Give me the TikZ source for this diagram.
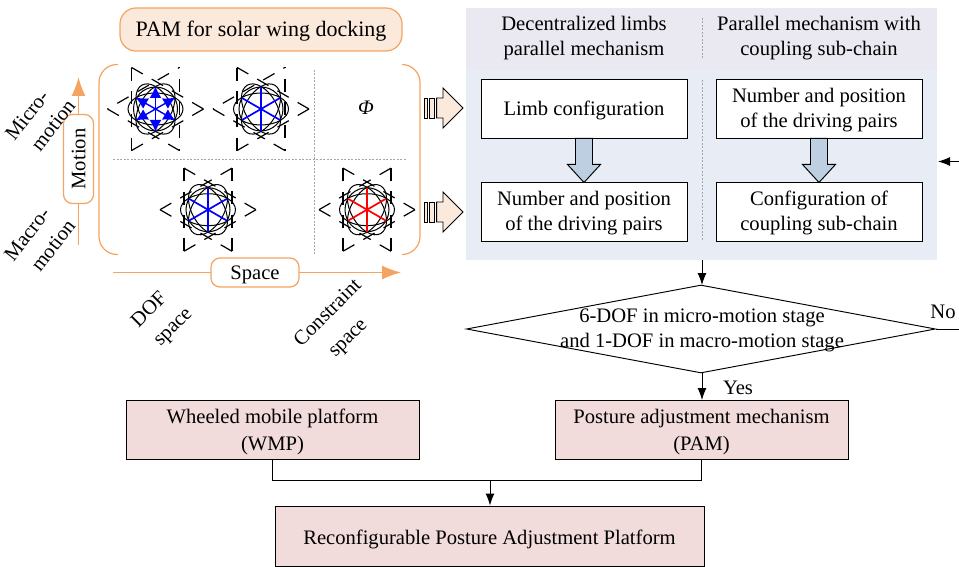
\documentclass[tikz,border=0pt]{standalone}
\usepackage{fontspec}
\setmainfont{Liberation Serif}
\usetikzlibrary{arrows.meta,shapes.geometric,shapes.arrows,calc}
\definecolor{orng}{HTML}{F4A460}
\definecolor{peach}{HTML}{FBE9DC}
\definecolor{pink}{HTML}{F2DCDB}
\definecolor{lav}{HTML}{EAE8F0}
\definecolor{pale}{HTML}{E8EDF5}
\definecolor{steel}{HTML}{BFCFE2}
\tikzset{
 x=1pt,y=-1pt,
 txt/.style={font=\fontsize{20.6}{25}\selectfont,align=center,inner sep=0pt,
   execute at begin node={\rule{0pt}{18.5pt}},execute at end node={\rule[-5pt]{0pt}{5pt}}},
 low/.style={execute at begin node={\rule{0pt}{22.5pt}}},
 wbox/.style={draw=black,fill=white,line width=0.95pt,minimum width=206pt,minimum height=59pt,txt},
 pbox/.style={draw=black,fill=pink,line width=0.95pt,minimum height=59pt,txt},
 obox/.style={draw=orng,fill=white,line width=1.2pt,rounded corners=9pt,txt},
 conn/.style={draw=black,line width=0.95pt},
 arr/.style={conn,-{Latex[length=12pt,width=9pt]}},
 oarr/.style={draw=orng,line width=1.5pt,-{Latex[length=19pt,width=14pt]}},
 sep/.style={draw=gray!70,line width=0.8pt,dash pattern=on 2pt off 1.5pt},
 obrk/.style={draw=orng,line width=1.2pt,rounded corners=18pt},
 star/.style={line width=1.2pt,dash pattern=on 13pt off 10.33pt},
 hexbase/.pic={
  \foreach \a/\b in {0/120,120/240,240/0,60/180}
   \draw[star] (\a:48) -- (\b:48);
  \draw[star,dash phase=#1] (180:48) -- (300:48);
  \draw[star,dash phase=#1] (300:48) -- (60:48);
  \draw[line width=1pt] (0,0) circle[radius=22pt];
  \foreach \r in {0,60,120}
   \draw[line width=1pt,rotate=\r] (0,0) ellipse[x radius=27.5pt,y radius=16pt];
 },
 spokes/.pic={
  \foreach \r in {30,90,150}
   \draw[#1,line width=1.7pt] (\r:22) -- (\r+180:22);
 },
 barbs/.pic={
  \foreach \r in {30,90,...,330}
   \draw[blue,line width=1.4pt,-{Latex[length=12pt,width=12pt]}] (0,0) -- (\r:23);
 },
 hollow/.pic={
  \draw[line width=0.95pt,fill=peach] (-39,-10) rectangle (-36,10);
  \draw[line width=0.95pt,fill=peach] (-34,-10) rectangle (-28.3,10);
  \draw[line width=0.95pt,fill=peach] (-26.3,-10) -- (-20,-10) -- (-20,-20) -- (0,0) -- (-20,20) -- (-20,10) -- (-26.3,10) -- cycle;
 },
}
\begin{document}
\begin{tikzpicture}
\useasboundingbox (0,0) rectangle (959,567);
% right panel
\fill[lav] (466,8) rectangle (937,70);
\fill[pale] (466,70) rectangle (937,260);
\draw[sep] (702,18) -- (702,58);
\draw[sep] (702,80) -- (702,241);
\node[txt] (h1) at (584,38.5) {Decentralized limbs\\parallel mechanism};
\node[txt] (h2) at (819,38.5) {Parallel mechanism with\\coupling sub-chain};
\node[wbox] (b1) at (584,108.5) {Limb configuration};
\node[wbox] (b2) at (584,211.5) {};
\node[wbox] (b3) at (819,108.5) {};
\node[wbox] (b4) at (819,211.5) {};
\node[txt] (b2t) at (584,213.5) {Number and position\\of the driving pairs};
\node[txt] (b3t) at (819,110.5) {Number and position\\of the driving pairs};
\node[txt] (b4t) at (819,213.5) {Configuration of\\coupling sub-chain};
\draw[draw=black,line width=0.95pt,fill=steel] (b1.south)+(-8.5,0) -- +(-8.5,26) -- +(-16.5,26) -- +(0,44) -- +(16.5,26) -- +(8.5,26) -- +(8.5,0) -- cycle;
\draw[draw=black,line width=0.95pt,fill=steel] (b3.south)+(-8.5,0) -- +(-8.5,26) -- +(-16.5,26) -- +(0,44) -- +(16.5,26) -- +(8.5,26) -- +(8.5,0) -- cycle;
% left panel
\node[draw=orng,fill=peach,line width=1.2pt,rounded corners=16pt,minimum width=282pt,minimum height=43pt,txt,font=\fontsize{22}{25}\selectfont] (title) at (261,29.5) {PAM for solar wing docking};
\draw[obrk] (118,64.5) -- (99,64.5) -- (99,254.5) -- (118,254.5);
\draw[obrk] (402,64.5) -- (420,64.5) -- (420,254.5) -- (402,254.5);
\draw[sep] (113,159) -- (407,159);
\draw[sep] (314,70) -- (314,254);
\coordinate (m0) at (78.5,245);
\coordinate (m1) at (78.5,77);
\coordinate (s0) at (113,272.5);
\coordinate (s1) at (401,272.5);
\draw[oarr] (m0) -- (m1);
\draw[oarr] (s0) -- (s1);
\node[obox,minimum width=89pt,minimum height=30pt,rotate=90] (motion) at (78.5,159) {Motion};
\node[obox,minimum width=88pt,minimum height=29pt] (space) at (255,272.5) {Space};
\pic at (155.5,109) {hexbase=12};
\pic at (155.5,109) {barbs};
\pic at (261,109) {hexbase=12};
\pic at (261,109) {spokes=blue};
\pic at (208,209.7) {hexbase=0};
\pic at (208,209.7) {spokes=blue};
\pic at (367,209.7) {hexbase=0};
\pic at (367,209.7) {spokes=red};
\node[txt] (phi) at (366,108) {\itshape Φ};
\node[txt,rotate=52] (micro) at (27,115) {Micro-};
\node[txt,rotate=52] (microb) at (53,125) {motion};
\node[txt,rotate=52] (macro) at (27,234) {Macro-};
\node[txt,rotate=52] (macrob) at (53,245.5) {motion};
\node[txt,rotate=45] (dof) at (148.3,309) {DOF};
\node[txt,rotate=45] (dofb) at (172,326) {space};
\node[txt,rotate=45] (cons) at (327,312) {Constraint};
\node[txt,rotate=45] (consb) at (347,337) {space};
\pic at (463,108) {hollow};
\pic at (463,212) {hollow};
% flow
\coordinate (fb0) at (959,161.5);
\coordinate (fb1) at (938,161.5);
\draw[arr] (fb0) -- (fb1);
\node[draw=black,fill=white,line width=0.95pt,diamond,aspect=5.4,minimum width=469pt,minimum height=88pt,inner sep=0pt] (dec) at (701,329) {};
\node[txt] (dect) at (702,331) {6-DOF in micro-motion stage\\and 1-DOF in macro-motion stage};
\coordinate (top) at (702,260);
\draw[arr] (top) -- (702,285);
\coordinate (no) at (959,329);
\draw[conn] (dec.east) -- (no);
\node[txt] (nol) at (943,312) {No};
\node[txt] (yes) at (738,387.5) {Yes};
\node[pbox,minimum width=293pt] (wmp) at (272.5,429.5) {};
\node[pbox,minimum width=293pt] (pam) at (701.5,429.5) {};
\node[txt] (wmpt) at (272.5,432) {Wheeled mobile platform\\[2pt](WMP)};
\node[txt] (pamt) at (701.5,432) {Posture adjustment mechanism\\[2pt](PAM)};
\node[pbox,low,minimum width=429pt,minimum height=60pt] (rpa) at (489.5,536) {Reconfigurable Posture Adjustment Platform};
\draw[arr] (702,373) -- (702,400);
\coordinate (j) at (490,480);
\draw[conn] (wmp.south) -- (272.5,480) -- (701.5,480) -- (pam.south);
\draw[arr] (j) -- (rpa.north -| j);
\end{tikzpicture}
\end{document}
